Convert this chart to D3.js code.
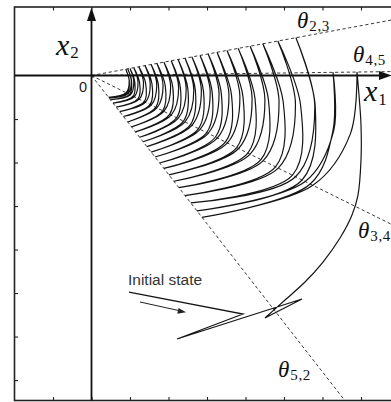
<!DOCTYPE html>
<html>
<head>
<meta charset="utf-8">
<script src="https://cdn.jsdelivr.net/npm/d3@7"></script>
<style>
  html, body { margin: 0; padding: 0; background: #fff; }
  svg { display: block; }
</style>
</head>
<body>
<svg id="chart" width="391" height="402"></svg>
<script>
// Switching surfaces through the origin: label and slope x2/x1
const switchNames = ["2,3", "4,5", "3,4", "5,2"];
const switchSlopes = [0.1637, 0.0116, -0.439, -1.1355];

// Frame ticks
const xTicks = [-1, 0, 1, 2, 3, 4, 5, 6, 7];
const yTicks = [-7, -6, -5, -4, -3, -2, -1];

// Initial state and the first zig-zag of switchings
const initX = [0.974, 3.935, 2.221, 5.468, 4.506];
const initY = [-4.977, -5.483, -6.057, -5.138, -5.575];

// Wide arc carrying the state up to the θ4,5 surface
const sweepX = [4.506, 5.026, 5.545, 6.013, 6.455, 6.766, 6.922, 7.000, 7.000, 6.948, 6.896];
const sweepY = [-5.575, -5.161, -4.747, -4.287, -3.736, -3.207, -2.747, -1.943, -1.138, -0.448, 0.080];

// Loop turning points, given as x1 on the surface they lie on
const topX45 = [6.896, 6.273];
const topX23 = [5.31, 4.84, 4.45, 4.12, 3.81, 3.52, 3.26, 3.03, 2.82, 2.61,
                2.43, 2.25, 2.07, 1.88, 1.70, 1.55, 1.39, 1.23, 1.10, 1.00, 0.94, 0.89];
const lowX34 = [5.75, 5.55, 5.30, 4.85, 4.46, 4.12, 3.82, 3.53, 3.27, 3.03, 2.82,
                2.61, 2.43, 2.25, 2.07, 1.88, 1.70, 1.55, 1.40, 1.24, 1.11, 1.01, 0.95, 0.90];
const leftX52 = [2.87, 2.74, 2.58, 2.43, 2.27, 2.14, 2.01, 1.88, 1.77, 1.65, 1.55,
                 1.44, 1.34, 1.25, 1.14, 1.04, 0.94, 0.83, 0.73, 0.64, 0.56, 0.49, 0.46, 0.44];
const backX34 = [5.68, 5.47, 5.22, 4.78, 4.40, 4.06, 3.77, 3.48, 3.22, 2.99, 2.78,
                 2.57, 2.39, 2.21, 2.03, 1.85, 1.67, 1.52, 1.37, 1.21, 1.08, 0.99, 0.93];

const ink = "#141414";
const svg = d3.select("#chart");

const x = d3.scaleLinear().domain([-2, 8]).range([14.5, 399.5]);
const y = d3.scaleLinear().domain([-7.47, 1.575]).range([400.5, 7]);
const O = [x(0), y(0)];
const [s23, s45, s34, s52] = switchSlopes;
const onLine = (v, s) => [x(v), y(s * v)];

// Frame
svg.append("rect")
  .attr("x", x(-2)).attr("y", y(1.575))
  .attr("width", x(8) - x(-2)).attr("height", y(-7.47) - y(1.575))
  .attr("fill", "none").attr("stroke", "#222").attr("stroke-width", 1.6);

// Inward ticks on top, bottom and left edges
function tickStyle(g) {
  g.select(".domain").remove();
  g.selectAll("text").remove();
  g.selectAll(".tick line").attr("stroke", "#222").attr("stroke-width", 1.1);
}
svg.append("g").attr("transform", `translate(0,${y(1.575)})`)
  .call(d3.axisTop(x).tickValues(xTicks).tickSize(-3.5)).call(tickStyle);
svg.append("g").attr("transform", `translate(0,${y(-7.47)})`)
  .call(d3.axisBottom(x).tickValues(xTicks).tickSize(-3.5)).call(tickStyle);
svg.append("g").attr("transform", `translate(${x(-2)},0)`)
  .call(d3.axisLeft(y).tickValues(yTicks).tickSize(-3.5)).call(tickStyle);

// Switching surfaces (dashed rays from the origin)
const dashG = svg.append("g");
switchSlopes.forEach(s => {
  const xEnd = s < 0 ? Math.min(8, -7.47 / s) : 8;
  dashG.append("line")
    .attr("x1", O[0]).attr("y1", O[1])
    .attr("x2", x(xEnd)).attr("y2", y(s * xEnd))
    .attr("stroke", "#222").attr("stroke-width", 0.9)
    .attr("stroke-dasharray", "3.2,2.6");
});

// State axes with arrowheads
svg.append("line").attr("x1", x(-2)).attr("y1", O[1]).attr("x2", 382).attr("y2", O[1])
  .attr("stroke", "#111").attr("stroke-width", 1.8);
svg.append("line").attr("x1", O[0]).attr("y1", y(-7.47)).attr("x2", O[0]).attr("y2", 20)
  .attr("stroke", "#111").attr("stroke-width", 1.8);
svg.append("path").attr("d", `M392,${O[1]} L379,${O[1] - 4.5} L379,${O[1] + 4.5} Z`).attr("fill", "#111");
svg.append("path").attr("d", `M${O[0]},7.5 L${O[0] - 4.5},21 L${O[0] + 4.5},21 Z`).attr("fill", "#111");

// Trajectory
const traj = d3.path();
traj.moveTo(x(initX[0]), y(initY[0]));
for (let i = 1; i < initX.length; i++) traj.lineTo(x(initX[i]), y(initY[i]));

const smooth = d3.line().curve(d3.curveCatmullRom.alpha(0.5)).context(traj);
smooth(sweepX.map((v, i) => [x(v), y(sweepY[i])]));

// point halfway (in angle) between a and b on a spiral about the origin, pushed out slightly
function spiralMid(a, b, bulge) {
  const ra = Math.hypot(a[0] - O[0], a[1] - O[1]);
  const rb = Math.hypot(b[0] - O[0], b[1] - O[1]);
  const ta = Math.atan2(a[1] - O[1], a[0] - O[0]);
  const tb = Math.atan2(b[1] - O[1], b[0] - O[0]);
  const rm = bulge * (ra + rb) / 2, tm = (ta + tb) / 2;
  return [O[0] + rm * Math.cos(tm), O[1] + rm * Math.sin(tm)];
}

const tops = topX45.map(v => onLine(v, s45)).concat(topX23.map(v => onLine(v, s23)));
tops.forEach((t, k) => {
  const low = onLine(lowX34[k], s34);
  const left = onLine(leftX52[k], s52);
  smooth([t, spiralMid(t, low, 1.035), low, left]);
  if (k < tops.length - 1) {
    const back = onLine(backX34[k], s34);
    smooth([left, back, spiralMid(back, tops[k + 1], 1.02), tops[k + 1]]);
  }
});

svg.append("path").attr("d", traj.toString())
  .attr("fill", "none").attr("stroke", ink).attr("stroke-width", 1.2);

// Labels
const serif = "Liberation Serif";
const sans = "Liberation Sans";
function mathLabel(sym, sub, px, py, symSize, subSize, subDy) {
  const t = svg.append("text").attr("x", px).attr("y", py).attr("fill", "#111");
  t.append("tspan").attr("font-family", serif).attr("font-style", "italic")
    .attr("font-size", symSize).text(sym);
  t.append("tspan").attr("font-family", serif).attr("font-style", "normal")
    .attr("font-size", subSize).attr("dx", 1).attr("dy", subDy)
    .attr("letter-spacing", 0.6).text(sub);
}
const thetaPos = [[297, 28], [353, 62], [358, 238], [278, 377]];
switchNames.forEach((n, i) => mathLabel("θ", n, thetaPos[i][0], thetaPos[i][1], 23, 15, 3));
mathLabel("x", "2", 56, 55, 30, 17, 3);
mathLabel("x", "1", 364, 101, 30, 17, 4);

svg.append("text").attr("x", 87).attr("y", 92).attr("text-anchor", "end")
  .attr("font-family", sans).attr("font-size", 14.5).attr("fill", "#222").text("0");

svg.append("text").attr("x", 128).attr("y", 285)
  .attr("font-family", sans).attr("font-size", 15.5).attr("fill", "#333").text("Initial state");
svg.append("line").attr("x1", 140).attr("y1", 302).attr("x2", 180).attr("y2", 310.8)
  .attr("stroke", "#222").attr("stroke-width", 1);
svg.append("path").attr("d", "M186,312.2 L178.6,307.9 L177.3,313.8 Z").attr("fill", "#222");
</script>
</body>
</html>
